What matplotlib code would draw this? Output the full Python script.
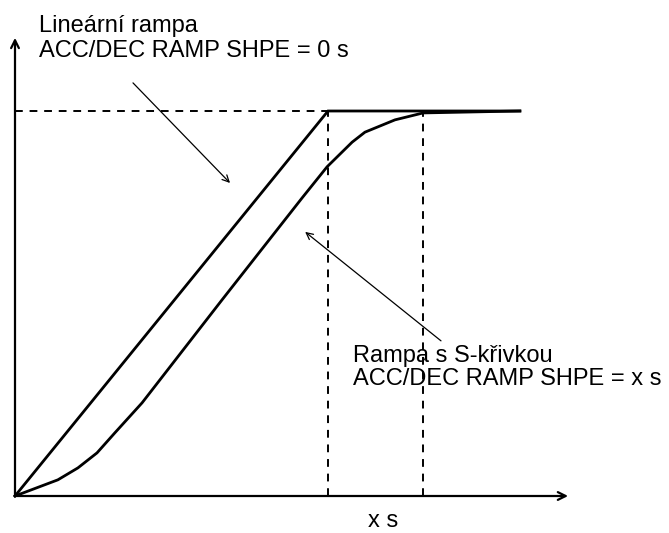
import matplotlib
matplotlib.use("Agg")
import matplotlib.pyplot as plt

# time axis in units of the linear ramp time, value as fraction of the final level
lin_t = [0.0, 1.0, 1.613]
lin_v = [0.0, 1.0, 1.0]

s_t = [0.0, 0.137, 0.201, 0.262, 0.319, 0.406, 0.661, 0.917, 0.997,
       1.077, 1.118, 1.214, 1.304, 1.613]
s_v = [0.0, 0.042, 0.073, 0.112, 0.164, 0.242, 0.509, 0.774, 0.855,
       0.919, 0.945, 0.977, 0.995, 1.0]

t_lin_end = 1.0
t_s_end = 1.304
x_axis_end = 1.767
y_axis_end = 1.19

label_lin = ["Lineární rampa", "ACC/DEC RAMP SHPE = 0 s"]
label_s = ["Rampa s S-křivkou", "ACC/DEC RAMP SHPE = x s"]
label_x = "x s"

W, H = 669, 533
fig = plt.figure(figsize=(W / 100, H / 100), dpi=100)
ax = fig.add_axes([0, 0, 1, 1])
# 313 px per time unit, 385 px per value unit, origin at (15, 496) from top-left
ax.set_xlim(-15 / 313, (W - 15) / 313)
ax.set_ylim(-(H - 496) / 385, 496 / 385)
ax.axis("off")

font = "Liberation Sans"

# axes with arrows
for tip in [(x_axis_end, 0), (0, y_axis_end)]:
    ax.annotate("", xy=tip, xytext=(0, 0),
                arrowprops=dict(arrowstyle="->", lw=1.6, color="black",
                                shrinkA=0, shrinkB=0, mutation_scale=14))

# dashed guide lines
dash = dict(color="black", lw=1.4, dashes=(4, 3.5))
ax.plot([0, t_lin_end], [1, 1], **dash)
ax.plot([t_lin_end, t_lin_end], [0, 1], **dash)
ax.plot([t_s_end, t_s_end], [0, 1], **dash)

# ramps
ax.plot(lin_t, lin_v, color="black", lw=2.0, solid_joinstyle="miter")
ax.plot(s_t, s_v, color="black", lw=2.0)

# labels
def put(x, y, s, ha="left"):
    fig.text(x / W, 1 - y / H, s, fontsize=17, family=font,
             va="baseline", ha=ha)

put(39, 32, label_lin[0])
put(39, 57, label_lin[1])
put(353, 362, label_s[0])
put(353, 385, label_s[1])
put(383, 527, label_x, ha="center")

# pointer arrows
ax.annotate("", xy=(0.687, 0.813), xytext=(0.377, 1.073),
            arrowprops=dict(arrowstyle="->", lw=0.9, color="black",
                            shrinkA=0, shrinkB=0, mutation_scale=12))
ax.annotate("", xy=(0.927, 0.686), xytext=(1.361, 0.403),
            arrowprops=dict(arrowstyle="->", lw=0.9, color="black",
                            shrinkA=0, shrinkB=0, mutation_scale=12))

fig.savefig("out.png", dpi=100)
